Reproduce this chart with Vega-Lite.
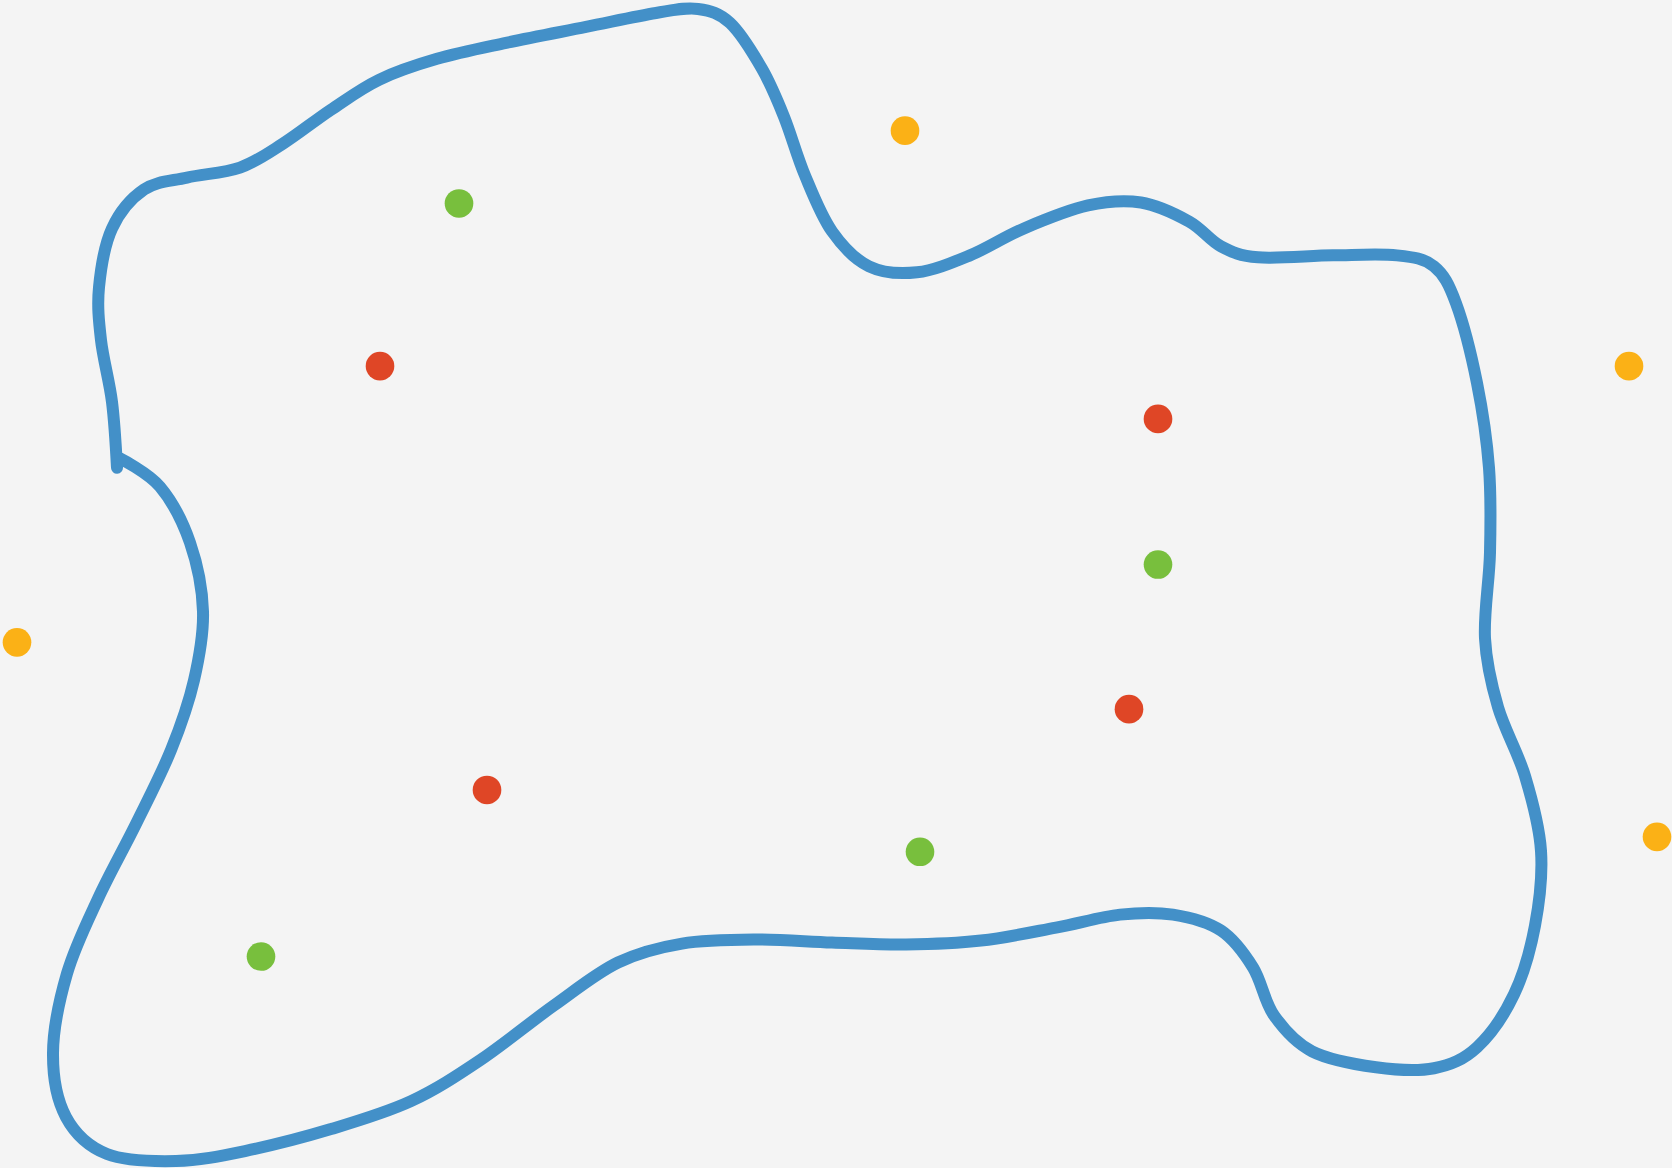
{
  "$schema": "https://vega.github.io/schema/vega-lite/v6.json",
  "width": 1672,
  "height": 1168,
  "autosize": {"type": "fit", "contains": "padding"},
  "padding": 0,
  "background": "#f4f4f4",
  "config": {"view": {"stroke": null}},
  "datasets": {
    "outline": [
      {"i": 1, "x": 119, "y": 459}, {"i": 2, "x": 160, "y": 488}, {"i": 3, "x": 190, "y": 544},
      {"i": 4, "x": 203, "y": 613}, {"i": 5, "x": 194, "y": 682}, {"i": 6, "x": 171, "y": 752},
      {"i": 7, "x": 136, "y": 826}, {"i": 8, "x": 98, "y": 901}, {"i": 9, "x": 67, "y": 976},
      {"i": 10, "x": 53, "y": 1056}, {"i": 11, "x": 66, "y": 1120}, {"i": 12, "x": 107, "y": 1157},
      {"i": 13, "x": 176, "y": 1164}, {"i": 14, "x": 245, "y": 1154}, {"i": 15, "x": 331, "y": 1132},
      {"i": 16, "x": 411, "y": 1104}, {"i": 17, "x": 480, "y": 1063}, {"i": 18, "x": 554, "y": 1008},
      {"i": 19, "x": 618, "y": 965}, {"i": 20, "x": 682, "y": 946}, {"i": 21, "x": 757, "y": 942},
      {"i": 22, "x": 832, "y": 945}, {"i": 23, "x": 906, "y": 947}, {"i": 24, "x": 981, "y": 943},
      {"i": 25, "x": 1056, "y": 930}, {"i": 26, "x": 1120, "y": 917}, {"i": 27, "x": 1173, "y": 917},
      {"i": 28, "x": 1221, "y": 933}, {"i": 29, "x": 1253, "y": 970}, {"i": 30, "x": 1274, "y": 1018},
      {"i": 31, "x": 1312, "y": 1054}, {"i": 32, "x": 1376, "y": 1070}, {"i": 33, "x": 1434, "y": 1071},
      {"i": 34, "x": 1477, "y": 1050}, {"i": 35, "x": 1514, "y": 997}, {"i": 36, "x": 1535, "y": 928},
      {"i": 37, "x": 1541, "y": 853}, {"i": 38, "x": 1525, "y": 778}, {"i": 39, "x": 1498, "y": 709},
      {"i": 40, "x": 1485, "y": 640}, {"i": 41, "x": 1490, "y": 554}, {"i": 42, "x": 1489, "y": 469},
      {"i": 43, "x": 1477, "y": 384}, {"i": 44, "x": 1456, "y": 304}, {"i": 45, "x": 1434, "y": 267},
      {"i": 46, "x": 1397, "y": 256}, {"i": 47, "x": 1333, "y": 256}, {"i": 48, "x": 1258, "y": 258},
      {"i": 49, "x": 1221, "y": 247}, {"i": 50, "x": 1189, "y": 222}, {"i": 51, "x": 1141, "y": 203},
      {"i": 52, "x": 1088, "y": 206}, {"i": 53, "x": 1024, "y": 229}, {"i": 54, "x": 970, "y": 256},
      {"i": 55, "x": 917, "y": 273}, {"i": 56, "x": 869, "y": 267}, {"i": 57, "x": 832, "y": 232},
      {"i": 58, "x": 805, "y": 176}, {"i": 59, "x": 784, "y": 117}, {"i": 60, "x": 762, "y": 69},
      {"i": 61, "x": 730, "y": 23}, {"i": 62, "x": 698, "y": 9}, {"i": 63, "x": 656, "y": 13},
      {"i": 64, "x": 586, "y": 27}, {"i": 65, "x": 506, "y": 43}, {"i": 66, "x": 437, "y": 59},
      {"i": 67, "x": 379, "y": 80}, {"i": 68, "x": 331, "y": 110}, {"i": 69, "x": 283, "y": 144},
      {"i": 70, "x": 240, "y": 168}, {"i": 71, "x": 187, "y": 178}, {"i": 72, "x": 144, "y": 190},
      {"i": 73, "x": 112, "y": 229}, {"i": 74, "x": 99, "y": 288}, {"i": 75, "x": 101, "y": 341},
      {"i": 76, "x": 112, "y": 403}, {"i": 77, "x": 117, "y": 469}
    ],
    "dots": [
      {"x": 905, "y": 131, "group": "outside"},
      {"x": 1629, "y": 367, "group": "outside"},
      {"x": 17, "y": 644, "group": "outside"},
      {"x": 1657, "y": 839, "group": "outside"},
      {"x": 459, "y": 204, "group": "green"},
      {"x": 1158, "y": 566, "group": "green"},
      {"x": 920, "y": 854, "group": "green"},
      {"x": 261, "y": 959, "group": "green"},
      {"x": 380, "y": 367, "group": "red"},
      {"x": 1158, "y": 420, "group": "red"},
      {"x": 1129, "y": 711, "group": "red"},
      {"x": 487, "y": 792, "group": "red"}
    ]
  },
  "layer": [
    {
      "data": {"name": "outline"},
      "mark": {"type": "line", "interpolate": "cardinal", "tension": 0, "stroke": "#4390c8", "strokeWidth": 12, "strokeCap": "round", "strokeJoin": "round"},
      "encoding": {
        "x": {"field": "x", "type": "quantitative", "scale": {"domain": [0, 1672], "nice": false, "zero": false}, "axis": null},
        "y": {"field": "y", "type": "quantitative", "scale": {"domain": [0, 1168], "nice": false, "zero": false, "reverse": true}, "axis": null},
        "order": {"field": "i", "type": "quantitative"}
      }
    },
    {
      "data": {"name": "dots"},
      "mark": {"type": "circle", "size": 820, "opacity": 1},
      "encoding": {
        "x": {"field": "x", "type": "quantitative", "scale": {"domain": [0, 1672], "nice": false, "zero": false}, "axis": null},
        "y": {"field": "y", "type": "quantitative", "scale": {"domain": [0, 1168], "nice": false, "zero": false, "reverse": true}, "axis": null},
        "color": {"field": "group", "type": "nominal", "scale": {"domain": ["outside", "green", "red"], "range": ["#fbb116", "#78bf3d", "#df4626"]}, "legend": null}
      }
    }
  ]
}
